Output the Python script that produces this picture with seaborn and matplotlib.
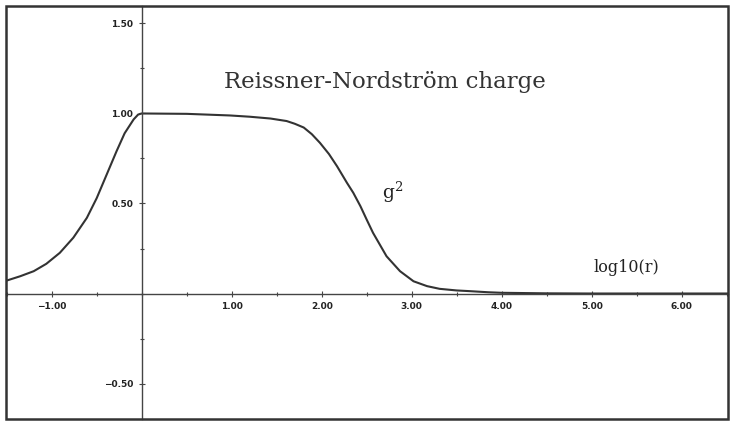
import matplotlib
matplotlib.use("Agg")
import matplotlib.pyplot as plt
from matplotlib.patches import Rectangle
from matplotlib.ticker import MultipleLocator, FixedLocator
import seaborn as sns

# values (x = log10(r), y = g^2)
log_r = [-1.50, -1.35, -1.20, -1.06, -0.91, -0.76, -0.61, -0.50, -0.39, -0.28,
         -0.19, -0.09, -0.04, 0.0, 0.5, 0.98, 1.2, 1.43, 1.61, 1.70,
         1.80, 1.89, 1.98, 2.08, 2.17, 2.28, 2.35, 2.43, 2.50, 2.57,
         2.72, 2.87, 3.02, 3.17, 3.31, 3.50, 3.65, 3.85, 4.0, 4.5,
         5.0, 6.5]
g2 = [0.072, 0.096, 0.124, 0.165, 0.226, 0.31, 0.42, 0.53, 0.66, 0.79,
      0.89, 0.967, 0.994, 1.0, 0.998, 0.989, 0.982, 0.972, 0.958, 0.943,
      0.922, 0.885, 0.837, 0.775, 0.707, 0.615, 0.56, 0.485, 0.41, 0.337,
      0.207, 0.124, 0.068, 0.041, 0.026, 0.017, 0.013, 0.007, 0.004, 0.001,
      0.0, 0.0]

x_ticks = [-1, 1, 2, 3, 4, 5, 6]
y_ticks = [-0.5, 0.5, 1.0, 1.5]

sns.set_style("white")

fig = plt.figure(figsize=(7.32, 4.21), dpi=100)
ax = fig.add_axes([6 / 732, 2 / 421, 722 / 732, 413 / 421])

sns.lineplot(x=log_r, y=g2, ax=ax, color="#333333", linewidth=1.5,
             solid_joinstyle="round")

ax.set_xlim(-1.508, 6.514)
ax.set_ylim(-0.697, 1.597)

# axes crossing at the origin
for side in ["top", "right"]:
    ax.spines[side].set_visible(False)
ax.spines["left"].set_position(("data", 0))
ax.spines["bottom"].set_position(("data", 0))
for side in ["left", "bottom"]:
    ax.spines[side].set_color("#444444")
    ax.spines[side].set_linewidth(1.0)
    ax.spines[side].set_linestyle((0, (2, 1)))

ax.xaxis.set_major_locator(FixedLocator(x_ticks))
ax.yaxis.set_major_locator(FixedLocator(y_ticks))
ax.xaxis.set_minor_locator(MultipleLocator(0.5))
ax.yaxis.set_minor_locator(MultipleLocator(0.25))
ax.set_xticklabels([f"{v:.2f}".replace("-", "\u2212") for v in x_ticks])
ax.set_yticklabels([f"{v:.2f}".replace("-", "\u2212") for v in y_ticks])
ax.tick_params(which="both", bottom=True, left=True, direction="inout",
               length=4, width=0.8, color="#444444", labelsize=6.5, pad=4)
ax.tick_params(which="minor", length=3)
for lab in ax.get_xticklabels() + ax.get_yticklabels():
    lab.set_fontweight("bold")
    lab.set_color("#222222")

ax.set_xlabel("")
ax.set_ylabel("")

ax.text(2.70, 1.175, "Reissner-Nordstr\u00f6m charge", family="DejaVu Serif",
        fontsize=16.5, color="#333333", ha="center", va="center")
ax.text(2.67, 0.56, "g$^2$", family="DejaVu Serif", fontsize=13.5,
        color="#222222", ha="left", va="center", math_fontfamily="dejavuserif")
ax.text(5.38, 0.145, "log10(r)", family="DejaVu Serif", fontsize=11.5,
        color="#222222", ha="center", va="center")

# outer frame of the figure
fig.patches.append(Rectangle((6 / 732, 2 / 421), 722 / 732, 413 / 421,
                             transform=fig.transFigure, fill=False,
                             edgecolor="#333333", linewidth=1.8))

fig.savefig("out.png", dpi=100)
